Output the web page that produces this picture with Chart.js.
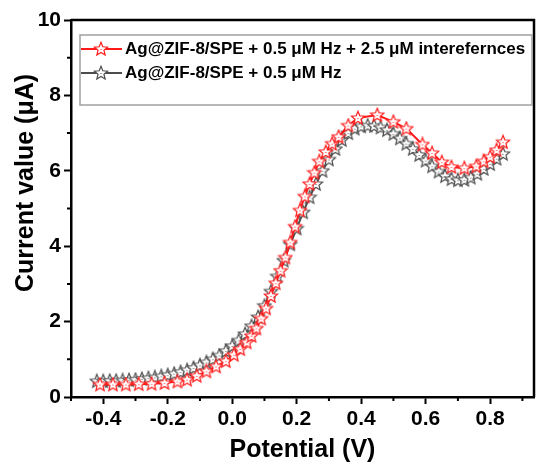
<!DOCTYPE html>
<html><head><meta charset="utf-8">
<script src="https://cdn.jsdelivr.net/npm/chart.js@4.4.1/dist/chart.umd.min.js"></script>
<style>html,body{margin:0;padding:0;background:#fff}#wrap{width:536px;height:466px}</style>
</head><body><div id="wrap"><canvas id="c" width="536" height="466"></canvas></div>
<script>
const seriesNames = ["Ag@ZIF-8/SPE + 0.5 \u03bcM Hz + 2.5 \u03bcM interefernces", "Ag@ZIF-8/SPE + 0.5 \u03bcM Hz"];
const xTitle = 'Potential (V)';
const yTitle = 'Current value (\u03bcA)';
const redV = [-0.41,-0.37,-0.33,-0.29,-0.25,-0.21,-0.17,-0.14,-0.11,-0.08,-0.05,-0.02,0.005,0.025,0.045,0.06,0.075,0.09,0.105,0.12,0.135,0.15,0.165,0.18,0.195,0.21,0.225,0.24,0.255,0.27,0.29,0.31,0.33,0.36,0.39,0.45,0.50,0.54,0.59,0.62,0.65,0.68,0.72,0.757,0.78,0.80,0.82,0.84];
const redI = [0.33,0.33,0.33,0.34,0.35,0.37,0.41,0.46,0.56,0.68,0.81,0.95,1.12,1.27,1.45,1.62,1.82,2.08,2.35,2.68,3.02,3.35,3.70,4.10,4.52,4.95,5.32,5.65,5.95,6.25,6.50,6.72,6.90,7.20,7.40,7.48,7.30,7.12,6.70,6.47,6.23,6.10,6.07,6.12,6.25,6.37,6.55,6.76];
const grayV = [-0.42,-0.40,-0.38,-0.36,-0.34,-0.32,-0.30,-0.28,-0.26,-0.24,-0.22,-0.20,-0.18,-0.16,-0.14,-0.12,-0.10,-0.08,-0.06,-0.04,-0.02,0.00,0.02,0.04,0.06,0.08,0.10,0.12,0.14,0.16,0.18,0.20,0.22,0.24,0.26,0.28,0.30,0.32,0.34,0.36,0.38,0.40,0.42,0.44,0.46,0.48,0.50,0.52,0.54,0.56,0.58,0.60,0.62,0.64,0.66,0.68,0.70,0.72,0.74,0.76,0.78,0.80,0.82,0.84];
const grayI = [0.42,0.42,0.43,0.43,0.44,0.45,0.46,0.48,0.50,0.52,0.55,0.58,0.62,0.66,0.71,0.77,0.84,0.92,1.00,1.10,1.22,1.35,1.50,1.67,1.88,2.12,2.42,2.80,3.20,3.62,4.05,4.47,4.90,5.30,5.65,6.00,6.30,6.58,6.82,7.00,7.12,7.18,7.20,7.19,7.15,7.08,6.98,6.86,6.72,6.58,6.42,6.27,6.12,5.98,5.86,5.78,5.75,5.76,5.82,5.92,6.05,6.18,6.32,6.45];
const xTicks = [-0.4,-0.2,0.0,0.2,0.4,0.6,0.8];
const xMinor = [-0.5,-0.3,-0.1,0.1,0.3,0.5,0.7,0.9];
const yTicks = [0,2,4,6,8,10];
const yMinor = [1,3,5,7,9];

const RED = '#ff1a1a', GRAY = '#4d4d4d';
const FONT = '"Liberation Sans", Arial, sans-serif';
function starImg(color){
  const s = 16, c = document.createElement('canvas'); c.width = s; c.height = s;
  const g = c.getContext('2d');
  g.beginPath();
  for (let i=0;i<10;i++){
    const r = i%2===0 ? 7 : 3.1;
    const a = -Math.PI/2 + i*Math.PI/5;
    const px = 8 + r*Math.cos(a), py = 8.3 + r*Math.sin(a);
    i===0 ? g.moveTo(px,py) : g.lineTo(px,py);
  }
  g.closePath();
  g.fillStyle = '#fff'; g.fill();
  g.lineWidth = 1.2; g.strokeStyle = color; g.stroke();
  g.fillStyle = color; g.fillRect(7.5,8,1,1);
  return c;
}
const redStar = starImg(RED), grayStar = starImg(GRAY);
const toPts = (v,i) => v.map((x,k)=>({x:x,y:i[k]}));

const frame = {
  id:'frame',
  afterDraw(chart){
    const ctx = chart.ctx, a = chart.chartArea, xs = chart.scales.x, ys = chart.scales.y;
    ctx.save();
    ctx.strokeStyle = '#000'; ctx.lineWidth = 2.5;
    ctx.beginPath();
    ctx.moveTo(a.left, a.top); ctx.lineTo(a.right, a.top); ctx.lineTo(a.right, a.bottom);
    ctx.stroke();
    ctx.lineWidth = 2;
    ctx.beginPath();
    xMinor.forEach(v=>{ const p = xs.getPixelForValue(v); if (p>=a.left-1 && p<=a.right+1){ ctx.moveTo(p,a.bottom); ctx.lineTo(p,a.bottom+4);} });
    yMinor.forEach(v=>{ const p = ys.getPixelForValue(v); ctx.moveTo(a.left,p); ctx.lineTo(a.left-4,p); });
    ctx.stroke();
    // y title
    ctx.save();
    ctx.translate(26, 183);
    ctx.rotate(-Math.PI/2);
    ctx.font = 'bold 25px ' + FONT;
    ctx.fillStyle = '#000'; ctx.textAlign = 'center'; ctx.textBaseline = 'middle';
    ctx.fillText(yTitle, 0, 0);
    ctx.restore();
    // legend
    const lx = 80, ly = 35, lw = 452, lh = 70;
    ctx.strokeStyle = '#a0a0a0'; ctx.lineWidth = 1.5;
    ctx.strokeRect(lx, ly, lw, lh);
    const rows = [[RED, redStar, 49], [GRAY, grayStar, 73]];
    ctx.font = 'bold 17px ' + FONT;
    ctx.textBaseline = 'middle'; ctx.textAlign = 'left';
    rows.forEach((r,k)=>{
      ctx.strokeStyle = r[0]; ctx.lineWidth = 2;
      ctx.beginPath(); ctx.moveTo(81, r[2]); ctx.lineTo(122, r[2]); ctx.stroke();
      ctx.drawImage(r[1], 101-8, r[2]-8);
      ctx.fillStyle = '#000';
      ctx.fillText(seriesNames[k], 125, r[2]);
    });
    ctx.restore();
  }
};

new Chart(document.getElementById('c'), {
  type: 'scatter',
  data: { datasets: [
    { label: seriesNames[0], data: toPts(redV, redI), showLine: true, borderColor: RED, borderWidth: 2, pointStyle: redStar, pointRadius: 7, tension: 0 },
    { label: seriesNames[1], data: toPts(grayV, grayI), showLine: true, borderColor: GRAY, borderWidth: 2, pointStyle: grayStar, pointRadius: 7, tension: 0 }
  ]},
  options: {
    responsive: false, animation: false,
    layout: { autoPadding: false, padding: { top: 20, right: 2, left: -1, bottom: 0 } },
    plugins: { legend: { display: false }, tooltip: { enabled: false } },
    scales: {
      x: {
        type: 'linear', min: -0.5, max: 0.936,
        afterBuildTicks: s => { s.ticks = xTicks.map(v=>({value:v})); },
        afterFit: s => { s.height = 69; s.paddingLeft = 0; s.paddingRight = 0; },
        ticks: { color: '#000', font: { family: FONT, size: 21, weight: 'bold' }, padding: 3, callback: v => v.toFixed(1), maxRotation: 0, autoSkip: false },
        grid: { drawOnChartArea: false, drawTicks: true, tickLength: 7, tickWidth: 2, tickColor: '#000' },
        border: { display: true, color: '#000', width: 2.5 },
        title: { display: true, text: xTitle, color: '#000', font: { family: FONT, size: 25, weight: 'bold' }, padding: { top: 0, bottom: 1 } }
      },
      y: {
        type: 'linear', min: 0, max: 10,
        afterBuildTicks: s => { s.ticks = yTicks.map(v=>({value:v})); },
        afterFit: s => { s.width = 72; s.paddingTop = 0; s.paddingBottom = 0; },
        ticks: { color: '#000', font: { family: FONT, size: 21, weight: 'bold' }, padding: 3, callback: v => String(v), autoSkip: false },
        grid: { drawOnChartArea: false, drawTicks: true, tickLength: 7, tickWidth: 2, tickColor: '#000' },
        border: { display: true, color: '#000', width: 2.5 },
        title: { display: false }
      }
    }
  },
  plugins: [frame]
});
</script></body></html>
